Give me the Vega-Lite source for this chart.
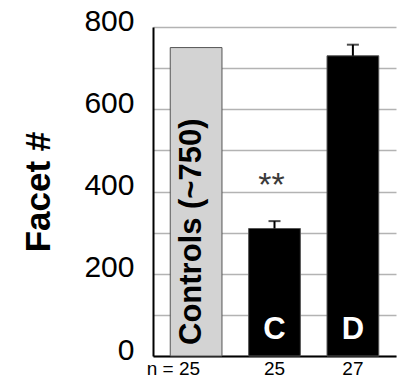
{
  "$schema": "https://vega.github.io/schema/vega-lite/v6.json",
  "autosize": {"type": "none"},
  "width": 243,
  "height": 329,
  "padding": {"left": 153, "top": 27, "right": 5, "bottom": 30},
  "background": "white",
  "config": {
    "font": "Liberation Sans",
    "view": {"stroke": null}
  },
  "data": {
    "values": [
      {"n_label": "n = 25", "kind": "control", "value": 750, "upper": null, "inner": "Controls (~750)", "sig": ""},
      {"n_label": "25", "kind": "mutant", "value": 310, "upper": 328, "inner": "C", "sig": "**"},
      {"n_label": "27", "kind": "mutant", "value": 730, "upper": 757, "inner": "D", "sig": ""}
    ]
  },
  "encoding": {
    "x": {
      "field": "n_label",
      "type": "nominal",
      "sort": null,
      "scale": {"paddingInner": 0.34, "paddingOuter": 0.22},
      "axis": {
        "title": null,
        "labelAngle": 0,
        "labelFontSize": 19,
        "labelColor": "#000000",
        "labelPadding": 3,
        "labelAlign": {"condition": {"test": "datum.value === 'n = 25'", "value": "right"}, "value": "center"},
        "labelOffset": {"condition": {"test": "datum.value === 'n = 25'", "value": 4}, "value": 0},
        "ticks": false,
        "grid": false,
        "domainColor": "#000000",
        "domainWidth": 2
      }
    }
  },
  "layer": [
    {
      "mark": {"type": "bar", "stroke": "#555555", "strokeWidth": 1},
      "encoding": {
        "y": {
          "field": "value",
          "type": "quantitative",
          "scale": {"domain": [0, 800], "nice": false},
          "axis": {
            "title": "Facet #",
            "titleFontSize": 35,
            "titleFontWeight": "bold",
            "titleColor": "#000000",
            "titlePadding": 27,
            "values": [0, 100, 200, 300, 400, 500, 600, 700, 800],
            "labelExpr": "datum.value % 200 === 0 ? datum.label : ''",
            "labelFontSize": 30,
            "labelColor": "#000000",
            "labelPadding": 19,
            "labelOffset": -6,
            "labelBaseline": "middle",
            "ticks": false,
            "grid": true,
            "gridColor": "#b3b3b3",
            "gridWidth": 1.5,
            "domainColor": "#000000",
            "domainWidth": 2
          }
        },
        "color": {
          "field": "kind",
          "type": "nominal",
          "scale": {"domain": ["control", "mutant"], "range": ["#d3d3d3", "#000000"]},
          "legend": null
        }
      }
    },
    {
      "transform": [{"filter": "datum.upper != null"}],
      "mark": {"type": "rule", "color": "#000000", "strokeWidth": 2},
      "encoding": {
        "y": {"field": "value", "type": "quantitative"},
        "y2": {"field": "upper"}
      }
    },
    {
      "transform": [{"filter": "datum.upper != null"}],
      "mark": {"type": "tick", "color": "#000000", "size": 12, "thickness": 2, "orient": "horizontal"},
      "encoding": {
        "y": {"field": "upper", "type": "quantitative"}
      }
    },
    {
      "transform": [{"filter": "datum.kind === 'control'"}],
      "mark": {"type": "text", "angle": 270, "align": "left", "baseline": "middle", "fontSize": 31, "fontWeight": "bold", "color": "#000000", "dx": 11, "dy": -4},
      "encoding": {
        "y": {"datum": 0, "type": "quantitative"},
        "text": {"field": "inner"}
      }
    },
    {
      "transform": [{"filter": "datum.kind === 'mutant'"}],
      "mark": {"type": "text", "align": "center", "baseline": "middle", "fontSize": 31, "fontWeight": "bold", "color": "#ffffff", "dy": -26},
      "encoding": {
        "y": {"datum": 0, "type": "quantitative"},
        "text": {"field": "inner"}
      }
    },
    {
      "transform": [{"filter": "datum.sig !== ''"}],
      "mark": {"type": "text", "align": "center", "baseline": "alphabetic", "fontSize": 34, "color": "#3a3a3a", "dy": -25, "dx": -3},
      "encoding": {
        "y": {"field": "upper", "type": "quantitative"},
        "text": {"field": "sig"}
      }
    }
  ]
}
